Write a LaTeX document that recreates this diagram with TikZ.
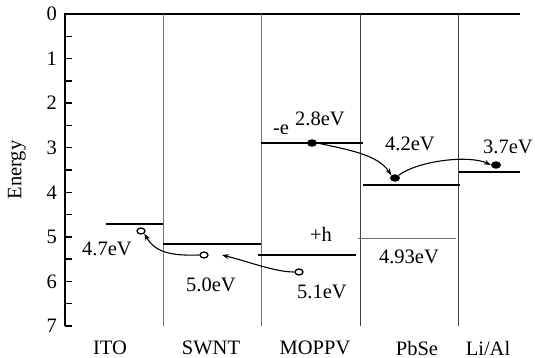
\documentclass[tikz,border=0pt]{standalone}
\usepackage{fontspec}
\setmainfont{Liberation Serif}
\usetikzlibrary{arrows.meta,shapes.geometric}
\begin{document}
\begin{tikzpicture}[x=1pt,y=-1pt,
  lbl/.style={font=\fontsize{20.5}{24}\selectfont, inner sep=0pt},
  axisline/.style={line width=1.5pt, black},
  sep/.style={line width=1pt, black!55},
  sepd/.style={line width=1pt, black!75},
  level/.style={line width=1.4pt, black},
  levelg/.style={line width=1pt, black!55},
  edot/.style={ellipse, fill=black, minimum width=10pt, minimum height=7.5pt, inner sep=0pt},
  hdot/.style={ellipse, draw=black, line width=1.3pt, fill=white, minimum width=8pt, minimum height=6pt, inner sep=0pt},
  flow/.style={line width=1.1pt, -{Stealth[length=7pt,width=5pt]}}]
\useasboundingbox (0,0) rectangle (535,358);
% axis
\coordinate (a0) at (65,14);
\coordinate (a7) at (65,326);
\coordinate (aR) at (520,14);
\draw[axisline] (a7) -- (a0) -- (aR);
\foreach \i in {0,...,7} {
  \draw[axisline] (65,{14+44.57*\i}) -- (72,{14+44.57*\i});
  \node[lbl, anchor=east] (t\i) at (57,{14+44.57*\i}) {\i};
}
\foreach \i in {0,...,6} {
  \draw[axisline] (65,{14+44.57*(\i+0.5)}) -- (72,{14+44.57*(\i+0.5)});
}
\node[lbl, rotate=90] (elab) at (17,170) {Energy};
% separators
\coordinate (s1t) at (163,14); \coordinate (s1b) at (163,326);
\coordinate (s2t) at (261,14); \coordinate (s2b) at (261,326);
\coordinate (s3t) at (360,14); \coordinate (s3b) at (360,326);
\coordinate (s4t) at (458,14); \coordinate (s4b) at (458,326);
\draw[sep] (s1t) -- (s1b);
\draw[sep] (s2t) -- (s2b);
\draw[sepd] (s3t) -- (s3b);
\draw[sepd] (s4t) -- (s4b);
% levels
\coordinate (itoL) at (106,224); \coordinate (itoR) at (163,224);
\draw[level] (itoL) -- (itoR);
\coordinate (swL) at (163,244); \coordinate (swR) at (261,244);
\draw[level] (swL) -- (swR);
\coordinate (mlL) at (261,143); \coordinate (mlR) at (363,143);
\draw[level] (mlL) -- (mlR);
\coordinate (mhL) at (258,255); \coordinate (mhR) at (356,255);
\draw[level] (mhL) -- (mhR);
\coordinate (plL) at (363,185); \coordinate (plR) at (460,185);
\draw[level] (plL) -- (plR);
\coordinate (phL) at (358,238); \coordinate (phR) at (456,238);
\draw[levelg] (phL) -- (phR);
\coordinate (laL) at (459,172); \coordinate (laR) at (520,172);
\draw[level] (laL) -- (laR);
% labels
\node[lbl] (v47) at (107,249) {4.7eV};
\node[lbl] (v50) at (211,285) {5.0eV};
\node[lbl] (me) at (281,130) {-e};
\node[lbl] (v28) at (320,119) {2.8eV};
\node[lbl] (ph) at (321,234) {+h};
\node[lbl] (v51) at (322,292) {5.1eV};
\node[lbl] (v42) at (410,144) {4.2eV};
\node[lbl] (v493) at (409,257) {4.93eV};
\node[lbl] (v37) at (508,147) {3.7eV};
\node[lbl] (nITO) at (110,348) {ITO};
\node[lbl] (nSW) at (211,348) {SWNT};
\node[lbl] (nMO) at (315,348) {MOPPV};
\node[lbl] (nPb) at (417,348) {PbSe};
\node[lbl] (nLi) at (488,348) {Li/Al};
% carriers
\node[edot] (e1) at (312,143) {};
\node[edot] (e2) at (395,178) {};
\node[edot] (e3) at (496,165) {};
\node[hdot] (h1) at (141,231) {};
\node[hdot] (h2) at (204,255) {};
\node[hdot] (h3) at (299,272) {};
\coordinate (h3end) at (222,255);
% transfers
\draw[flow] (e1.east) .. controls (350,150) and (378,155) .. (e2.north west);
\draw[flow] (e2.north east) .. controls (420,160) and (470,155) .. (e3.west);
\draw[flow] (h3.west) .. controls (275,272) and (250,262) .. (h3end);
\draw[flow] (h2.west) .. controls (170,256) and (155,252) .. (h1.south east);
\end{tikzpicture}
\end{document}
